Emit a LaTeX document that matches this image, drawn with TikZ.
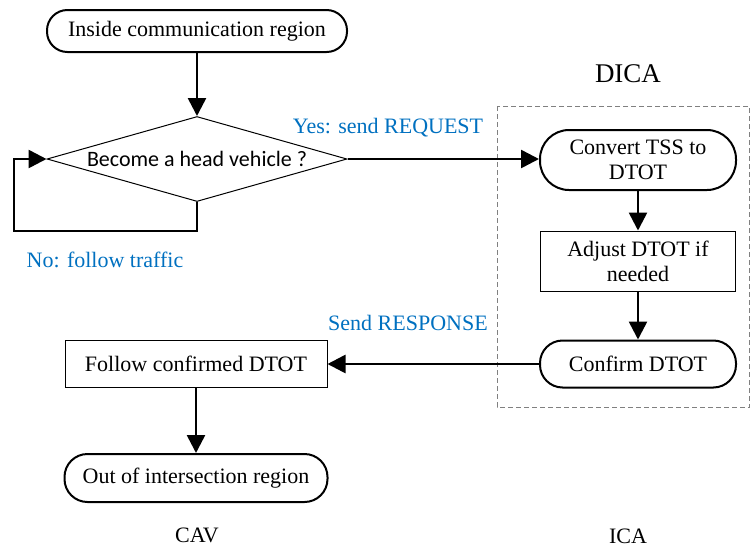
\documentclass[tikz,border=0pt]{standalone}
\usepackage{fontspec}
\setmainfont{Liberation Serif}
\newfontfamily\calfont{Carlito}
\usetikzlibrary{shapes, arrows.meta, positioning}
\definecolor{msblue}{RGB}{0,112,192}

\begin{document}
\begin{tikzpicture}[x=0.5pt, y=-0.5pt,
    font=\fontsize{11}{12.5}\selectfont,
    term/.style={draw, line width=1pt, rectangle, rounded corners=#1, align=center, inner sep=2pt},
    proc/.style={draw, line width=0.5pt, rectangle, align=center, inner sep=2pt},
    decide/.style={draw, line width=0.5pt, diamond, aspect=3.53, inner sep=0pt,
        minimum width=150pt, minimum height=42.5pt},
    arr/.style={line width=1.3pt, -{Triangle[length=9pt,width=9pt]}},
    lbl/.style={text=msblue}]
    \useasboundingbox (0,0) rectangle (751,548);

    % Vehicle side
    \node[term=10.2pt, minimum width=150pt, minimum height=21pt] (start) at (197,31) {Inside communication region};
    \node[decide] (head) at (197,159) {\calfont Become a head vehicle ?};
    \node[proc, minimum width=131pt, minimum height=23.5pt] (follow) at (196,364) {Follow confirmed DTOT};
    \node[term=11.5pt, minimum width=131.5pt, minimum height=24pt] (out) at (196,478) {Out of intersection region};

    % Intersection side
    \draw[dashed, dash pattern=on 2.5pt off 1.5pt, gray, line width=0.5pt] (497,106) rectangle (749.5,407);
    \node[term=14.5pt, minimum width=98pt, minimum height=30pt] (conv) at (638,160) {Convert TSS to\\DTOT};
    \node[proc, minimum width=97.5pt, minimum height=30pt] (adj) at (638,261) {Adjust DTOT if\\needed};
    \node[term=11.3pt, minimum width=98pt, minimum height=23.5pt] (conf) at (638,364) {Confirm DTOT};

    % Messages
    \node[lbl] (yes) at (388,128) {Yes: send REQUEST};
    \node[lbl] (no) at (105,260) {No: follow traffic};
    \node[lbl] (resp) at (408,323) {Send RESPONSE};

    % Titles
    \node[font=\fontsize{13.5}{15}\selectfont] (dica) at (628,74) {DICA};
    \node (cav) at (197,535) {CAV};
    \node (ica) at (628,536) {ICA};

    % Flow
    \coordinate (loop) at (14,231);
    \draw[arr] (start) -- (head);
    \draw[arr] (head.south) |- (loop) |- (head.west);
    \draw[arr] (head.east) -- (head.east -| conv.west);
    \draw[arr] (conv) -- (adj);
    \draw[arr] (adj) -- (conf);
    \draw[arr] (conf) -- (follow);
    \draw[arr] (follow) -- (out);
\end{tikzpicture}
\end{document}
